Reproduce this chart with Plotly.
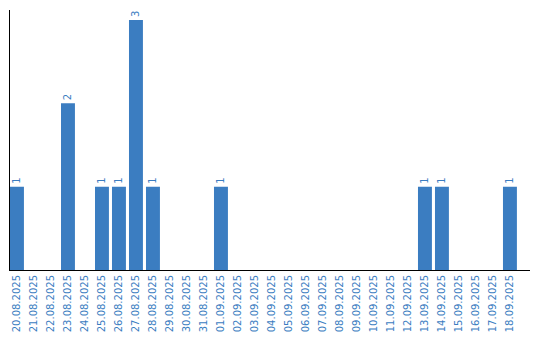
import plotly.graph_objects as go

dates = ["20.08.2025","21.08.2025","22.08.2025","23.08.2025","24.08.2025","25.08.2025",
         "26.08.2025","27.08.2025","28.08.2025","29.08.2025","30.08.2025","31.08.2025",
         "01.09.2025","02.09.2025","03.09.2025","04.09.2025","05.09.2025","06.09.2025",
         "07.09.2025","08.09.2025","09.09.2025","10.09.2025","11.09.2025","12.09.2025",
         "13.09.2025","14.09.2025","15.09.2025","16.09.2025","17.09.2025","18.09.2025"]
counts = [1,0,0,2,0,1,1,3,1,0,0,0,1,0,0,0,0,0,0,0,0,0,0,0,1,1,0,0,0,1]

labels = [str(c) if c > 0 else "" for c in counts]
color = "#3b7dc1"

fig = go.Figure(go.Bar(
    x=dates, y=counts, marker_color=color, marker_line_width=0,
    text=labels, textposition="outside", textangle=-90, cliponaxis=False,
    textfont=dict(family="DejaVu Sans", size=10, color=color),
))
fig.update_layout(
    width=540, height=340, margin=dict(l=10, r=10, t=10, b=70),
    plot_bgcolor="white", paper_bgcolor="white", bargap=0.18, showlegend=False,
    font=dict(family="DejaVu Sans", size=10, color=color),
)
fig.update_xaxes(type="category", range=[-0.41, 30.18], tickangle=-90,
                 showline=True, linecolor="black", linewidth=1, showgrid=False,
                 ticks="", tickfont=dict(size=10, color=color), automargin=False)
fig.update_yaxes(range=[0, 3.12], showline=True, linecolor="black", linewidth=1,
                 showgrid=False, zeroline=False, showticklabels=False, ticks="")
fig.write_html("out.html")
